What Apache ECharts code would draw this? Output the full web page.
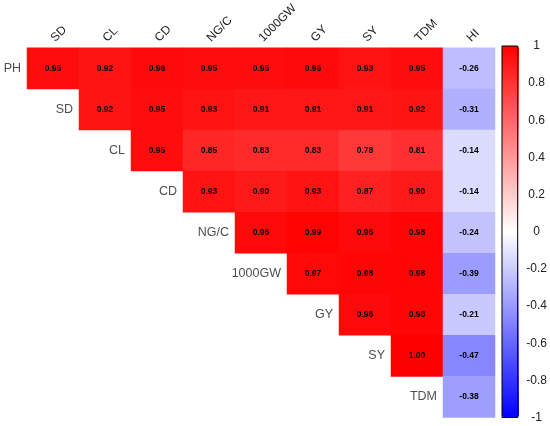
<!DOCTYPE html>
<html>
<head>
<meta charset="utf-8">
<title>corrplot</title>
<script src="https://cdn.jsdelivr.net/npm/echarts@6/dist/echarts.min.js"></script>
<style>
html, body { margin: 0; padding: 0; background: #fff; }
#main { width: 550px; height: 426px; }
</style>
</head>
<body>
<div id="main"></div>
<script type="text/javascript">
// 列名与行名
var colNames = ['SD', 'CL', 'CD', 'NG/C', '1000GW', 'GY', 'SY', 'TDM', 'HI'];
var rowNames = ['PH', 'SD', 'CL', 'CD', 'NG/C', '1000GW', 'GY', 'SY', 'TDM'];

// 每一行的相关系数（上三角，从对角线开始）
var rowPH     = [0.95, 0.92, 0.96, 0.95, 0.95, 0.96, 0.93, 0.95, -0.26];
var rowSD     = [0.92, 0.95, 0.93, 0.91, 0.91, 0.91, 0.92, -0.31];
var rowCL     = [0.95, 0.85, 0.83, 0.83, 0.78, 0.81, -0.14];
var rowCD     = [0.93, 0.90, 0.93, 0.87, 0.90, -0.14];
var rowNGC    = [0.96, 0.99, 0.96, 0.98, -0.24];
var row1000GW = [0.97, 0.98, 0.98, -0.39];
var rowGY     = [0.96, 0.98, -0.21];
var rowSY     = [1.00, -0.47];
var rowTDM    = [-0.38];

var rows = [rowPH, rowSD, rowCL, rowCD, rowNGC, row1000GW, rowGY, rowSY, rowTDM];

var cells = [];
var rowLabelPts = [];
for (var i = 0; i < rows.length; i++) {
    for (var j = 0; j < rows[i].length; j++) {
        cells.push([i + j, i, rows[i][j]]);
    }
    rowLabelPts.push({ value: [i, i], name: rowNames[i] });
}

var myChart = echarts.init(document.getElementById('main'));
var option = {
    animation: false,
    textStyle: { fontFamily: 'Liberation Sans, Arial, sans-serif' },
    grid: [
        { left: 27, top: 46, width: 468, height: 371.5 },
        { left: 502, top: 46, width: 17, height: 371.5, show: true,
          borderColor: '#000', borderWidth: 1, backgroundColor: 'transparent', z: 10 }
    ],
    xAxis: [
        {
            type: 'category', data: colNames, position: 'top', gridIndex: 0,
            axisLine: { show: false }, axisTick: { show: false },
            splitLine: { show: false },
            axisLabel: { rotate: -45, fontSize: 12, color: '#222', margin: 8 }
        },
        { type: 'value', gridIndex: 1, show: false, min: 0, max: 1 }
    ],
    yAxis: [
        {
            type: 'category', data: rowNames, inverse: true, gridIndex: 0,
            show: false
        },
        {
            type: 'value', gridIndex: 1, position: 'right', min: -1, max: 1, interval: 0.2,
            axisLine: { show: false },
            axisTick: { show: true, length: 3, lineStyle: { color: '#000' } },
            splitLine: { show: false },
            axisLabel: { fontSize: 12, color: '#222', margin: 19, align: 'center',
                formatter: function (v) { return String(Math.round(v * 10) / 10); } }
        }
    ],
    visualMap: {
        type: 'continuous', min: -1, max: 1, seriesIndex: 0,
        calculable: false, realtime: false, text: null,
        left: 502, top: 46, itemWidth: 17, itemHeight: 371.5, padding: 0,
        inRange: { color: ['#0000ff', '#ffffff', '#ff0000'] },
        showLabel: false
    },
    series: [
        {
            type: 'heatmap', xAxisIndex: 0, yAxisIndex: 0,
            data: cells,
            label: {
                show: true, fontSize: 8.5, fontWeight: 'bold', color: '#000',
                formatter: function (p) { return p.value[2].toFixed(2); }
            },
            itemStyle: { borderWidth: 0 },
            emphasis: { disabled: true }
        },
        {
            type: 'scatter', xAxisIndex: 0, yAxisIndex: 0,
            data: rowLabelPts,
            symbol: 'rect', symbolSize: [52, 41],
            itemStyle: { color: 'transparent' },
            label: {
                show: true, position: 'left', distance: 6,
                fontSize: 12.5, color: '#222',
                formatter: function (p) { return p.name; }
            },
            silent: true
        }
    ]
};
myChart.setOption(option);
</script>
</body>
</html>
